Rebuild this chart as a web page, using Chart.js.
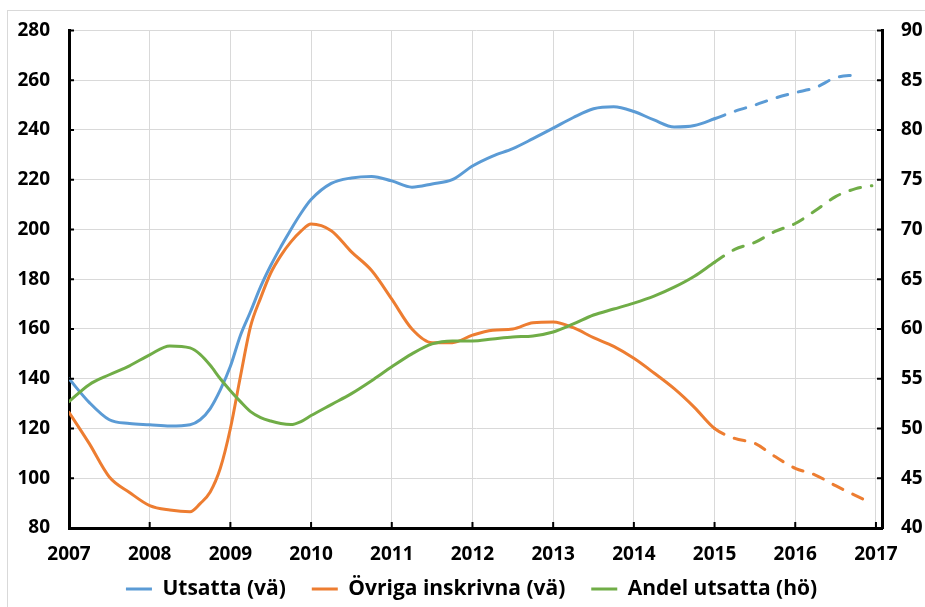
<!DOCTYPE html>
<html>
<head>
<meta charset="utf-8">
<script src="https://cdn.jsdelivr.net/npm/chart.js@4/dist/chart.umd.min.js"></script>
<style>
  html, body { margin: 0; padding: 0; background: #fff; }
  #wrap { position: relative; width: 925px; height: 607px; overflow: hidden; }
  #frame { position: absolute; left: 7px; top: 10px; width: 1000px; height: 700px;
           border-top: 1px solid #d9d9d9; border-left: 1px solid #d9d9d9; pointer-events: none; }
  canvas { position: absolute; left: 0; top: 0; }
</style>
</head>
<body>
<div id="wrap">
  <div id="frame"></div>
  <canvas id="c" width="925" height="607"></canvas>
</div>
<script>
// ---- Data ----
const dates = [
  2007.00, 2007.25, 2007.50, 2007.75,
  2008.00, 2008.25, 2008.50, 2008.625, 2008.75, 2008.875,
  2009.00, 2009.125, 2009.25, 2009.375, 2009.50, 2009.625, 2009.75, 2009.875,
  2010.00, 2010.25, 2010.50, 2010.75,
  2011.00, 2011.25, 2011.50, 2011.75,
  2012.00, 2012.25, 2012.50, 2012.75,
  2013.00, 2013.25, 2013.50, 2013.75,
  2014.00, 2014.25, 2014.50, 2014.75,
  2015.00, 2015.25, 2015.50, 2015.75,
  2016.00, 2016.25, 2016.50, 2016.75, 2016.95
];
const utsatta = [
  140, 130.5, 123.5, 122,
  121.5, 121, 121.5, 123.5, 128, 135.5,
  145, 157.5, 167, 177, 185.5, 193, 200, 206.5,
  212, 218.5, 220.7, 221.3,
  219.5, 217, 218.3, 220,
  225.5, 229.5, 232.5, 236.5,
  240.7, 245, 248.5, 249.3,
  247.4, 244, 241.2, 241.8,
  244.5, 247.5, 250, 252.8,
  255, 257, 261, 262.1, null
];
const ovriga = [
  126.5, 114, 100.5, 94.3,
  89, 87.2, 86.5, 89.8, 94.5, 104,
  120, 141, 161, 172.5, 182.5, 189.5, 195, 199.3,
  202.2, 199.5, 191, 183.5,
  172, 160, 154.5, 154.5,
  157.5, 159.5, 160, 162.5,
  162.8, 160.5, 156.5, 153,
  148.2, 142.3, 136, 128.5,
  120, 116, 114, 108.7,
  104, 101.3, 97, 93, 90
];
const andel = [
  52.7, 54.4, 55.4, 56.3,
  57.4, 58.3, 58.1, 57.45, 56.35, 55.0,
  53.8, 52.7, 51.7, 51.1, 50.75, 50.5, 50.4, 50.7,
  51.3, 52.4, 53.5, 54.8,
  56.2, 57.5, 58.5, 58.8,
  58.8, 59, 59.2, 59.3,
  59.7, 60.5, 61.4, 62,
  62.6, 63.3, 64.2, 65.3,
  66.7, 68.0, 68.7, 69.8,
  70.6, 71.9, 73.3, 74.1, 74.4
];
const forecastStart = 2015;
const yearTicks = [2007, 2008, 2009, 2010, 2011, 2012, 2013, 2014, 2015, 2016, 2017];
const leftTicks = [80, 100, 120, 140, 160, 180, 200, 220, 240, 260, 280];
const rightTicks = [40, 45, 50, 55, 60, 65, 70, 75, 80, 85, 90];
const seriesNames = ['Utsatta (vä)', 'Övriga inskrivna (vä)', 'Andel utsatta (hö)'];
const seriesColors = ['#5B9BD5', '#ED7D31', '#70AD47'];

// ---- Build chart ----
const toPoints = arr => dates.map((d, i) => ({ x: d, y: arr[i] }));
const dashSeg = { borderDash: ctx => (ctx.p0.parsed.x >= forecastStart - 1e-6 ? [11, 11] : undefined) };

Chart.defaults.font.family = '"Open Sans", "Noto Sans", sans-serif';
Chart.defaults.font.weight = 'bold';
Chart.defaults.color = '#000';

const LEGEND_FONT = 21;
const LEGEND_PAD = 26;
const LEGEND_CENTER_Y = 589;

const inwardTicks = {
  id: 'inwardTicks',
  afterLayout(chart) {
    const L = chart.legend;
    if (L) {
      const newTop = LEGEND_CENTER_Y - LEGEND_PAD - LEGEND_FONT / 2;
      const d = newTop - L.top;
      L.top += d;
      L.bottom = chart.height + 20;
      L.height = L.bottom - L.top;
      if (L.legendHitBoxes) L.legendHitBoxes.forEach(h => { h.top += d; });
    }
  },
  afterDatasetsDraw(chart) {
    const { ctx, chartArea, scales } = chart;
    ctx.save();
    ctx.strokeStyle = '#000';
    ctx.lineWidth = 2;
    ctx.beginPath();
    yearTicks.forEach(v => {
      const px = scales.x.getPixelForValue(v);
      ctx.moveTo(px, chartArea.bottom);
      ctx.lineTo(px, chartArea.bottom - 6);
    });
    leftTicks.forEach(v => {
      const py = scales.y.getPixelForValue(v);
      ctx.moveTo(chartArea.left, py);
      ctx.lineTo(chartArea.left + 5, py);
    });
    rightTicks.forEach(v => {
      const py = scales.y1.getPixelForValue(v);
      ctx.moveTo(chartArea.right, py);
      ctx.lineTo(chartArea.right - 5, py);
    });
    ctx.stroke();
    ctx.restore();
  }
};

const mkDs = (idx, arr, axis, order) => ({
  label: seriesNames[idx],
  data: toPoints(arr),
  yAxisID: axis,
  borderColor: seriesColors[idx],
  backgroundColor: seriesColors[idx],
  borderWidth: 3,
  borderCapStyle: 'round',
  borderJoinStyle: 'round',
  pointRadius: 0,
  cubicInterpolationMode: 'monotone',
  spanGaps: false,
  segment: dashSeg,
  order: order
});

new Chart(document.getElementById('c'), {
  type: 'line',
  data: {
    datasets: [
      mkDs(0, utsatta, 'y', 2),
      mkDs(1, ovriga, 'y', 1),
      mkDs(2, andel, 'y1', 0)
    ]
  },
  options: {
    responsive: false,
    animation: false,
    events: [],
    layout: { padding: { top: 28, left: 18, right: 0, bottom: 4 } },
    plugins: {
      tooltip: { enabled: false },
      legend: {
        position: 'bottom',
        maxHeight: 30,
        labels: {
          boxWidth: 26,
          boxHeight: 3,
          padding: LEGEND_PAD,
          font: { size: LEGEND_FONT, weight: 'bold' },
          color: '#000',
          sort: (a, b) => a.datasetIndex - b.datasetIndex,
          generateLabels: chart => chart.data.datasets.map((ds, i) => ({
            text: ds.label,
            fillStyle: ds.borderColor,
            strokeStyle: ds.borderColor,
            lineWidth: 0,
            hidden: false,
            datasetIndex: i
          }))
        }
      }
    },
    scales: {
      x: {
        type: 'linear',
        min: 2007,
        max: 2017.075,
        afterBuildTicks: s => { s.ticks = yearTicks.map(v => ({ value: v })); },
        afterFit: s => { s.height = 45; },
        ticks: { padding: 15, font: { size: 19, weight: 'bold' }, maxRotation: 0, autoSkip: false,
                 callback: v => String(v) },
        grid: { color: '#d9d9d9', lineWidth: 1, drawTicks: false },
        border: { color: '#000', width: 3 }
      },
      y: {
        position: 'left',
        min: 80,
        max: 280,
        afterBuildTicks: s => { s.ticks = leftTicks.map(v => ({ value: v })); },
        afterFit: s => { s.width = 51; },
        ticks: { padding: 19, font: { size: 19, weight: 'bold' } },
        grid: { color: '#d9d9d9', lineWidth: 1, drawTicks: false },
        border: { color: '#000', width: 3 }
      },
      y1: {
        position: 'right',
        min: 40,
        max: 90,
        afterBuildTicks: s => { s.ticks = rightTicks.map(v => ({ value: v })); },
        afterFit: s => { s.width = 43; },
        ticks: { padding: 19, font: { size: 19, weight: 'bold' } },
        grid: { drawOnChartArea: false, drawTicks: false },
        border: { color: '#000', width: 3 }
      }
    }
  },
  plugins: [inwardTicks]
});
</script>
</body>
</html>
